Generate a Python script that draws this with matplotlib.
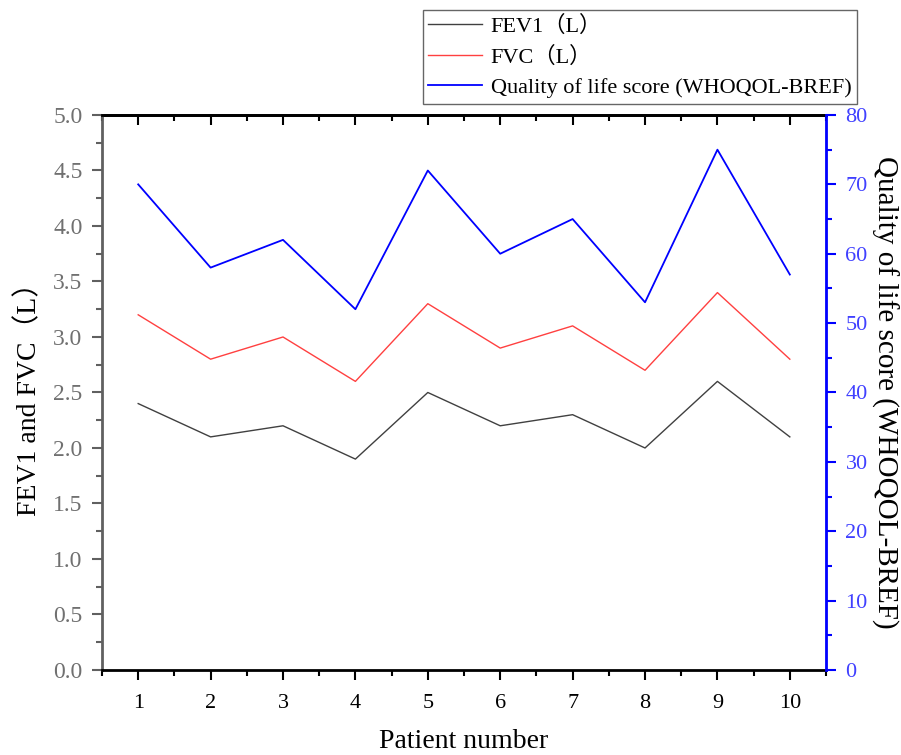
import matplotlib.pyplot as plt
import numpy as np
from matplotlib.ticker import MultipleLocator

# Values
patients = [1, 2, 3, 4, 5, 6, 7, 8, 9, 10]
fev1 = [2.4, 2.1, 2.2, 1.9, 2.5, 2.2, 2.3, 2.0, 2.6, 2.1]
fvc = [3.2, 2.8, 3.0, 2.6, 3.3, 2.9, 3.1, 2.7, 3.4, 2.8]
qol = [70, 58, 62, 52, 72, 60, 65, 53, 75, 57]

serif = ["Liberation Serif", "Noto Sans CJK SC", "DejaVu Sans"]
plt.rcParams["font.family"] = serif

fig = plt.figure(figsize=(9.01, 7.55), dpi=100)
ax = fig.add_axes([0.1132, 0.1126, 0.8036, 0.7351])
ax2 = ax.twinx()

l1, = ax.plot(patients, fev1, color="#404040", lw=1.0, label="FEV1（L）")
l2, = ax.plot(patients, fvc, color="#ff4040", lw=1.0, label="FVC（L）")
l3, = ax2.plot(patients, qol, color="#0000ff", lw=1.3,
               label="Quality of life score (WHOQOL-BREF)")

# Axis ranges and ticks
ax.set_xlim(0.5, 10.5)
ax.set_ylim(0, 5)
ax2.set_ylim(0, 80)
ax.set_xticks(patients)
ax.xaxis.set_minor_locator(MultipleLocator(0.5))
ax.yaxis.set_major_locator(MultipleLocator(0.5))
ax.yaxis.set_minor_locator(MultipleLocator(0.25))
ax2.yaxis.set_major_locator(MultipleLocator(10))
ax2.yaxis.set_minor_locator(MultipleLocator(5))
ax.yaxis.set_major_formatter(lambda v, p: f"{v:.1f}")

ax.tick_params(axis="x", which="major", direction="out", length=7, width=1.5,
               labelsize=16, pad=10, colors="black")
ax.tick_params(axis="x", which="minor", direction="out", length=4, width=1.5)
ax.tick_params(axis="y", which="major", direction="out", length=7, width=1.5,
               labelsize=17, pad=7, color="#606060", labelcolor="#707070")
ax.tick_params(axis="y", which="minor", direction="out", length=4, width=1.5,
               color="#606060")
ax2.tick_params(axis="y", which="major", direction="out", length=7, width=1.5,
                labelsize=16, pad=7, color="#0000ff", labelcolor="#4040ff")
ax2.tick_params(axis="y", which="minor", direction="out", length=4, width=1.5,
                color="#0000ff")

# Top axis with inward ticks only
top = ax.secondary_xaxis("top")
top.set_xticks(patients)
top.xaxis.set_minor_locator(MultipleLocator(0.5))
top.tick_params(axis="x", which="major", direction="in", length=7, width=1.5,
                labeltop=False)
top.tick_params(axis="x", which="minor", direction="in", length=4, width=1.5)
top.spines["top"].set_linewidth(2)

# Spines
ax.spines["left"].set_color("#606060")
ax.spines["left"].set_linewidth(2)
ax.spines["bottom"].set_linewidth(2)
ax.spines["top"].set_linewidth(2)
ax2.spines["right"].set_color("#0000ff")
ax2.spines["right"].set_linewidth(2)
ax2.spines["left"].set_visible(False)
ax2.spines["top"].set_visible(False)
ax2.spines["bottom"].set_visible(False)

ax.set_xlabel("Patient number", fontsize=20, labelpad=12)
ax.set_ylabel("FEV1 and FVC（L）", fontsize=20, labelpad=8)
ax2.set_ylabel("Quality of life score (WHOQOL-BREF)", fontsize=21,
               rotation=270, labelpad=22)

fig.legend(handles=[l1, l2, l3], loc="upper right",
           bbox_to_anchor=(0.951, 0.987), fontsize=16, frameon=True,
           fancybox=False, edgecolor="#404040", handlelength=2.4,
           handletextpad=0.4, borderpad=0.25, labelspacing=0.45,
           borderaxespad=0)

fig.savefig("out.png", dpi=100)
